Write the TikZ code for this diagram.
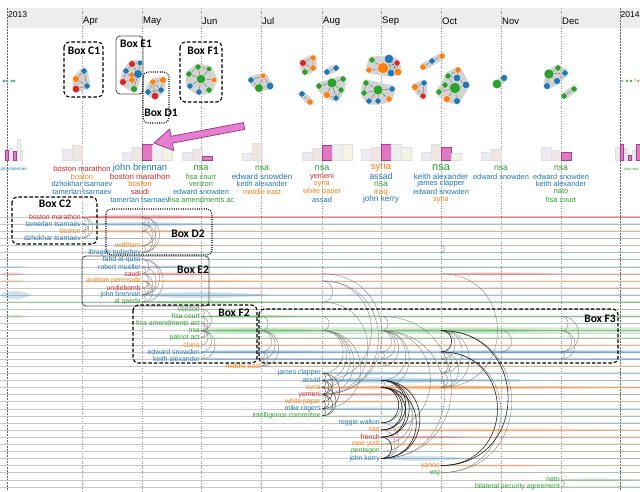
\documentclass[tikz,border=0pt]{standalone}
\usepackage{fontspec}
\setmainfont{Liberation Sans}
\newfontfamily\boxfont{Carlito}
\definecolor{cb}{HTML}{1F77B4}
\definecolor{co}{HTML}{FF7F0E}
\definecolor{cg}{HTML}{2CA02C}
\definecolor{cr}{HTML}{D62728}
\definecolor{pk}{HTML}{E377C2}
\definecolor{pkd}{HTML}{A0449A}
\definecolor{barlav}{HTML}{EEEAF4}
\definecolor{barbei}{HTML}{EFE5E3}
\definecolor{bargry}{HTML}{EFEFEF}
\definecolor{baryel}{HTML}{F4F4E4}
\definecolor{hullc}{HTML}{D2D2D2}
\definecolor{arrowpk}{HTML}{E67FD1}
\definecolor{arrowdk}{HTML}{9B3D8F}
\pgfdeclarelayer{bg}\pgfdeclarelayer{mid}\pgfsetlayers{bg,mid,main}
\newcommand\gn[5]{\pgfmathsetmacro\gs{#5*1.25}\node[gnode=#4, minimum size=\gs pt] (#1) at (#2,#3) {};}
\newcommand\lensband[5]{%
  \pgfmathsetmacro\ly{217+(#1-1)*7.1}%
  \pgfmathsetmacro\lh{#4*0.67}%
  \pgfmathsetmacro\xq{#2+(#3-#2)*0.2}%
  \pgfmathsetmacro\xr{#2+(#3-#2)*0.65}%
  \fill[#5,opacity=.2] (#2,\ly) .. controls (\xq,\ly-\lh) and (\xr,\ly-\lh) .. (#3,\ly) .. controls (\xr,\ly+\lh) and (\xq,\ly+\lh) .. (#2,\ly) -- cycle;}
\newcommand\flatband[5]{%
  \pgfmathsetmacro\ly{217+(#1-1)*7.1}%
  \pgfmathsetmacro\lh{#4/2}%
  \pgfmathsetmacro\xq{#2+8}%
  \fill[#5,opacity=.2] (#2,\ly) -- (\xq,\ly-\lh) -- (#3,\ly-\lh) -- (#3,\ly+\lh) -- (\xq,\ly+\lh) -- cycle;}
\begin{document}
\begin{tikzpicture}[x=1pt,y=-1pt,
  kw/.style={font=\fontsize{#1}{#1}\selectfont, inner sep=0pt},
  lbl/.style={font=\fontsize{6.9}{7}\selectfont, inner sep=1pt, anchor=east},
  rowline/.style={draw=black!22, line width=.3pt},
  monthline/.style={draw=black!40, dotted, line width=.5pt},
  yearline/.style={draw=black!60, dash pattern=on 2pt off 1pt, line width=.6pt},
  semi/.style={out=0,in=0,looseness=1.7},
  arcl/.style={draw=black!55, line width=.3pt},
  arcm/.style={draw=black!75, line width=.4pt},
  arck/.style={draw=black!90, line width=.55pt},
  gnode/.style={circle, inner sep=0pt, fill=#1, draw=white, line width=.3pt},
  gedge/.style={draw=black!60, line width=.35pt},
  hull/.style={fill=hullc, draw=hullc, line width=7pt, line join=round, line cap=round},
  boxlbl/.style={font=\boxfont\bfseries\fontsize{11.5}{12}\selectfont, inner sep=0pt},
  dashbox/.style={draw=black, line width=1.1pt, dash pattern=on 3.5pt off 2pt, rounded corners=5pt},
  dotbox/.style={draw=black, line width=1.1pt, dash pattern=on 1pt off 1.3pt, rounded corners=5pt},
  solidbox/.style={draw=black!65, line width=.9pt, rounded corners=4pt},
  mlbl/.style={font=\fontsize{9.5}{9.5}\selectfont, inner sep=0pt, anchor=west},
  ylbl/.style={font=\fontsize{8.5}{8.5}\selectfont, inner sep=0pt, anchor=west}]
\useasboundingbox (0,0) rectangle (640,491);
\begin{pgfonlayer}{bg}
\fill[white] (0,0) rectangle (640,491);
\fill[black!7] (7,8) rectangle (640,28);
\foreach \mx in {82,142,201,261,322,381,441,501,561}{\draw[monthline] (\mx,8) -- (\mx,491);}
\draw[yearline] (7,8) -- (7,491);
\draw[yearline] (620,8) -- (620,491);
\end{pgfonlayer}
% header labels
\node[ylbl] (y13) at (8,15) {2013};
\node[ylbl] (y14) at (620.5,15) {2014};
\foreach \mx/\mt in {83/Apr,143/May,202/Jun,262/Jul,323/Aug,382/Sep,442/Oct,502/Nov,562/Dec}{\node[mlbl] (m\mt) at (\mx,21) {\mt};}

% ---------- graphs ----------
\gn{C1a}{84}{71}{cb}{5}\gn{C1b}{76}{79}{co}{5.5}\gn{C1c}{76}{89}{cr}{6}\gn{C1d}{87}{86}{cb}{5}
\gn{E1a}{132}{64}{cr}{5.5}\gn{E1b}{140}{63}{cb}{4.5}\gn{E1c}{126}{71}{cb}{5}\gn{E1d}{132}{75}{co}{5}
\gn{E1e}{138}{74}{cb}{7}\gn{E1f}{123}{82}{cr}{5.5}\gn{E1g}{132}{80}{co}{5}\gn{E1h}{134}{89}{cg}{5.5}
\gn{D1a}{153}{82}{co}{5}\gn{D1b}{163}{80}{co}{5.5}\gn{D1c}{148}{92}{cb}{5}\gn{D1d}{161}{90}{cb}{5}\gn{D1e}{155}{96}{cr}{6}
\gn{F1a}{198}{67}{cg}{5}\gn{F1b}{209}{69}{cg}{4.5}\gn{F1c}{189}{74}{cg}{5}\gn{F1d}{201}{79}{cg}{7.5}
\gn{F1e}{214}{80}{co}{4.5}\gn{F1f}{190}{86}{cb}{5}\gn{F1g}{199}{92}{cb}{5}\gn{F1h}{209}{90}{cg}{5}
\gn{J1a}{251}{80}{cb}{5}\gn{J1b}{263}{76}{co}{4.5}\gn{J1c}{259}{88}{cg}{7}\gn{J1d}{270}{86}{cb}{6}
\gn{J2a}{303}{63}{cr}{5.5}\gn{J2b}{313}{58}{co}{5}\gn{J2c}{305}{72}{cg}{5}\gn{J2d}{313}{68}{co}{5}
\gn{J3a}{302}{94}{cb}{5}\gn{J3b}{310}{102}{co}{5}
\gn{A1a}{327}{72}{cb}{5}\gn{A1b}{336}{68}{cb}{5}
\gn{A1c}{319}{86}{cg}{5}\gn{A1d}{332}{83}{cg}{8}\gn{A1e}{343}{79}{cg}{5}\gn{A1f}{341}{90}{cg}{5}\gn{A1g}{327}{95}{co}{5.5}\gn{A1h}{336}{98}{cb}{5}
\gn{S1a}{372}{60}{cg}{5}\gn{S1b}{389}{59}{cb}{7.5}\gn{S1c}{397}{63}{cr}{5}\gn{S1d}{369}{70}{co}{5}
\gn{S1e}{383}{68}{co}{9}\gn{S1f}{391}{73}{cb}{6}\gn{S1g}{398}{72}{co}{6}
\gn{S2a}{366}{83}{cg}{5}\gn{S2b}{378}{90}{cg}{8}\gn{S2c}{392}{89}{cb}{5}\gn{S2d}{364}{93}{cg}{5}
\gn{S2e}{369}{101}{cb}{5}\gn{S2f}{378}{101}{cb}{5}\gn{S2g}{389}{99}{co}{5}
\gn{P1a}{423}{67}{co}{5}\gn{P1b}{432}{61}{cb}{5}\gn{P1c}{442}{56}{co}{5}
\gn{T1a}{415}{87}{co}{5.5}\gn{T1b}{424}{83}{cb}{5}\gn{T1c}{423}{96}{cr}{5}
\gn{O1a}{448}{76}{cg}{5}\gn{O1b}{458}{70}{co}{5}\gn{O1c}{457}{78}{cb}{6}\gn{O1d}{445}{85}{cg}{5}
\gn{O1e}{455}{88}{cg}{9}\gn{O1f}{466}{85}{cb}{6}\gn{O1g}{439}{92}{cg}{5}\gn{O1h}{447}{99}{co}{5.5}\gn{O1i}{457}{101}{cb}{5.5}
\gn{N1a}{497}{84}{cg}{7.5}\gn{N1b}{504}{78}{cb}{5.5}
\gn{X1a}{549}{74}{cg}{8}\gn{X1b}{558}{68}{cg}{5}\gn{X1c}{565}{73}{cb}{5}\gn{X1d}{557}{81}{cb}{5.5}\gn{X1e}{547}{86}{cb}{5.5}
\gn{X2a}{564}{96}{cg}{5}\gn{X2b}{574}{89}{cg}{5}
\gn{L0a}{4}{81}{cb}{2.5}\gn{L0b}{7}{81}{cg}{2.5}\gn{L0c}{12}{81}{cb}{2.5}\gn{L0d}{14}{81}{cg}{2.5}
\gn{R0a}{622}{81}{cb}{2}\gn{R0b}{627}{81}{cg}{2.5}\gn{R0c}{631}{81}{cg}{2.5}\gn{R0d}{635}{80}{co}{2}\gn{R0e}{638}{81}{cr}{2}
\begin{pgfonlayer}{mid}
\filldraw[hull] (C1a.center)--(C1d.center)--(C1c.center)--(C1b.center)--cycle;
\filldraw[hull] (E1a.center)--(E1b.center)--(E1e.center)--(E1h.center)--(E1f.center)--(E1c.center)--cycle;
\filldraw[hull] (D1a.center)--(D1b.center)--(D1d.center)--(D1e.center)--(D1c.center)--cycle;
\filldraw[hull] (F1a.center)--(F1b.center)--(F1e.center)--(F1h.center)--(F1g.center)--(F1f.center)--(F1c.center)--cycle;
\filldraw[hull] (J1a.center)--(J1b.center)--(J1d.center)--(J1c.center)--cycle;
\filldraw[hull] (J2a.center)--(J2b.center)--(J2d.center)--(J2c.center)--cycle;
\draw[hull] (J3a.center)--(J3b.center);
\draw[hull] (A1a.center)--(A1b.center);
\filldraw[hull] (A1c.center)--(A1e.center)--(A1f.center)--(A1h.center)--(A1g.center)--cycle;
\filldraw[hull] (S1a.center)--(S1b.center)--(S1c.center)--(S1g.center)--(S1f.center)--(S1d.center)--cycle;
\filldraw[hull] (S2a.center)--(S2c.center)--(S2g.center)--(S2f.center)--(S2e.center)--(S2d.center)--cycle;
\draw[hull] (P1a.center)--(P1c.center);
\filldraw[hull] (T1a.center)--(T1b.center)--(T1c.center)--cycle;
\filldraw[hull] (O1a.center)--(O1b.center)--(O1f.center)--(O1i.center)--(O1h.center)--(O1g.center)--(O1d.center)--cycle;
\draw[hull] (N1a.center)--(N1b.center);
\filldraw[hull] (X1b.center)--(X1c.center)--(X1d.center)--(X1e.center)--(X1a.center)--cycle;
\draw[hull] (X2a.center)--(X2b.center);
\draw[gedge] (C1a)--(C1b) (C1a)--(C1d) (C1b)--(C1c) (C1b)--(C1d) (C1c)--(C1d);
\draw[gedge] (E1a)--(E1b) (E1a)--(E1c) (E1a)--(E1e) (E1b)--(E1e) (E1c)--(E1d) (E1d)--(E1e) (E1c)--(E1f) (E1f)--(E1g) (E1g)--(E1e) (E1g)--(E1h) (E1e)--(E1h) (E1d)--(E1g) (E1c)--(E1g);
\draw[gedge] (D1a)--(D1b) (D1a)--(D1c) (D1a)--(D1d) (D1b)--(D1d) (D1c)--(D1e) (D1d)--(D1e) (D1a)--(D1e) (D1c)--(D1d);
\draw[gedge] (F1d)--(F1a) (F1d)--(F1b) (F1d)--(F1c) (F1d)--(F1e) (F1d)--(F1f) (F1d)--(F1g) (F1d)--(F1h) (F1a)--(F1b) (F1a)--(F1c);
\draw[gedge] (J1a)--(J1c) (J1c)--(J1d) (J1b)--(J1d) (J1a)--(J1b) (J1b)--(J1c);
\draw[gedge] (J2a)--(J2b) (J2a)--(J2c) (J2a)--(J2d) (J2b)--(J2d) (J2c)--(J2d) (J3a)--(J3b) (A1a)--(A1b);
\draw[gedge] (A1d)--(A1c) (A1d)--(A1e) (A1d)--(A1f) (A1d)--(A1g) (A1d)--(A1h) (A1g)--(A1h) (A1f)--(A1h);
\draw[gedge] (S1e)--(S1a) (S1e)--(S1b) (S1e)--(S1c) (S1e)--(S1d) (S1e)--(S1f) (S1e)--(S1g) (S1b)--(S1c) (S1b)--(S1f) (S1f)--(S1g) (S1c)--(S1g) (S1b)--(S1g) (S1c)--(S1f);
\draw[gedge] (S2b)--(S2a) (S2b)--(S2c) (S2b)--(S2d) (S2b)--(S2e) (S2b)--(S2f) (S2b)--(S2g) (S2a)--(S2d);
\draw[gedge] (P1a)--(P1b) (P1b)--(P1c) (T1a)--(T1b) (T1b)--(T1c) (T1a)--(T1c);
\draw[gedge] (O1e)--(O1a) (O1e)--(O1b) (O1e)--(O1c) (O1e)--(O1d) (O1e)--(O1f) (O1e)--(O1g) (O1e)--(O1h) (O1e)--(O1i) (O1a)--(O1b) (O1b)--(O1c) (O1a)--(O1c) (O1c)--(O1f) (O1d)--(O1g);
\draw[gedge] (N1a)--(N1b) (X1a)--(X1b) (X1a)--(X1c) (X1a)--(X1d) (X1a)--(X1e) (X1b)--(X1c) (X1c)--(X1d) (X2a)--(X2b);
\end{pgfonlayer}

% ---------- bars ----------
\foreach \xa/\xb/\t/\f/\d in {
 62/72/149/barlav/black!12, 72/82/145/barbei/black!12,
 122/132/152/barlav/black!12, 132/142/147/barbei/black!12, 142/152/144/pk/pkd, 152/162/145/bargry/black!12, 162/172/147/baryel/black!12,
 182/192/152/barlav/black!12, 192/202/149/barbei/black!12, 202/212/156/pk/pkd,
 242/252/153/barlav/black!12, 252/262/143/barbei/black!12,
 302/312/152/barlav/black!12, 312/322/148/barbei/black!12, 322/332/145/pk/pkd, 332/342/144/bargry/black!12, 342/352/144/baryel/black!12,
 361/371/149/barlav/black!12, 371/381/147/barbei/black!12, 381/391/144/pk/pkd, 391/401/144/bargry/black!12, 401/411/147/baryel/black!12,
 421/431/152/barlav/black!12, 431/441/144/barbei/black!12, 441/451/147/pk/pkd, 451/461/153/baryel/black!12,
 481/491/152/barlav/black!12, 491/501/149/barbei/black!12,
 541/551/147/barlav/black!12, 551/561/150/barbei/black!12, 561/571/152/pk/pkd,
 5/8/150/pk/pkd, 9/12/148/barbei/black!12, 13/16/151/pk/pkd, 17/20/139/baryel/black!12, 20/22/150/barlav/black!12,
 615/619/147/barlav/black!12, 620/623/144/pk/pkd, 624/627/148/barbei/black!12, 628/631/155/pk/pkd, 632/635/150/barlav/black!12, 636/640/144/pk/pkd}
 {\filldraw[fill=\f, draw=\d, line width=.4pt] (\xa,160) rectangle (\xb,\t);}

% ---------- pink arrow ----------
\filldraw[fill=arrowpk, draw=arrowdk, line width=.8pt, line join=round]
 (154,143) -- (169.7,128.9) -- (171.1,136.3) -- (243.4,122.6) -- (244.7,129.4) -- (172.4,143.1) -- (173.7,150.5) -- cycle;

% ---------- keyword lists ----------
\node[kw=4.5, text=cb, anchor=west] (kL1) at (0.5,169) {john brennan};
\node[kw=4, text=cg] (kR1) at (631,169) {nsa nsa};
\node[kw=7.6, text=cr] (kA1) at (82,169) {boston marathon};
\node[kw=7.4, text=co] (kA2) at (82,176.5) {boston};
\node[kw=7.4, text=cb] (kA3) at (82,184) {dzhokhar tsarnaev};
\node[kw=7.4, text=cb] (kA4) at (82,191.5) {tamerlan tsarnaev};
\node[kw=9.3, text=cb] (kM1) at (140,168.5) {john brennan};
\node[kw=8, text=cr] (kM2) at (140,176.5) {boston marathon};
\node[kw=7.8, text=co] (kM3) at (140,184) {boston};
\node[kw=7.6, text=cr] (kM4) at (140,191.5) {saudi};
\node[kw=7.4, text=cb] (kM5) at (140,199.5) {tamerlan tsarnaev};
\node[kw=9.3, text=cg] (kJ1) at (201,168.5) {nsa};
\node[kw=7.4, text=cg] (kJ2) at (201,176.5) {fisa court};
\node[kw=7.4, text=cg] (kJ3) at (201,184) {verizon};
\node[kw=7.4, text=cb] (kJ4) at (201,191.5) {edward snowden};
\node[kw=7.4, text=cg] (kJ5) at (201,199.5) {fisa amendments ac};
\node[kw=8.6, text=cg] (kL1j) at (262,168.5) {nsa};
\node[kw=8, text=cb] (kL2) at (262,176.5) {edward snowden};
\node[kw=7.4, text=cb] (kL3) at (262,184) {keith alexander};
\node[kw=7.4, text=co] (kL4) at (262,191.5) {middle east};
\node[kw=9, text=cg] (kG1) at (322,168.5) {nsa};
\node[kw=7.4, text=cr] (kG2) at (322,176.5) {yemeni};
\node[kw=7.4, text=co] (kG3) at (322,184) {syria};
\node[kw=7.4, text=co] (kG4) at (322,191.5) {white paper};
\node[kw=7.4, text=cb] (kG5) at (322,199.5) {assad};
\node[kw=9.6, text=co] (kS1) at (381,167) {syria};
\node[kw=8.8, text=cb] (kS2) at (381,176.5) {assad};
\node[kw=8.4, text=cg] (kS3) at (381,184.5) {nsa};
\node[kw=8.2, text=co] (kS4) at (381,192) {iraq};
\node[kw=8.2, text=cb] (kS5) at (381,199.5) {john kerry};
\node[kw=11, text=cg] (kO1) at (441,168) {nsa};
\node[kw=8, text=cb] (kO2) at (441,176.5) {keith alexander};
\node[kw=7.6, text=cb] (kO3) at (441,184) {james clapper};
\node[kw=7.4, text=cb] (kO4) at (441,191.5) {edward snowden};
\node[kw=7.4, text=co] (kO5) at (441,199.5) {syria};
\node[kw=8.6, text=cg] (kN1) at (501,168.5) {nsa};
\node[kw=7.4, text=cb] (kN2) at (501,176.5) {edward snowden};
\node[kw=8.6, text=cg] (kD1) at (561,168.5) {nsa};
\node[kw=7.4, text=cb] (kD2) at (561,176.5) {edward snowden};
\node[kw=7.4, text=cb] (kD3) at (561,184) {keith alexander};
\node[kw=7.4, text=cg] (kD4) at (561,191.5) {nato};
\node[kw=7.4, text=cg] (kD5) at (561,199.5) {fisa court};

% ---------- lower rows ----------
\foreach \i/\t/\c/\x in {
 1/boston marathon/cr/82, 2/tamerlan tsarnaev/cb/82, 3/boston/co/82, 4/dzhokhar tsarnaev/cb/82,
 5/waltham/co/142, 6/ibragim todashev/cb/142, 7/fahd al-quso/cb/142, 8/robert mueller/cb/142,
 9/saudi/cr/142, 10/arabian peninsula/co/142, 11/undiebomb/cr/142, 12/john brennan/cb/142, 13/al qaeda/cg/142,
 14/verizon/cg/201, 15/fisa court/cg/201, 16/fisa amendments act/cg/201, 17/nsa/cg/201, 18/patriot act/cg/201,
 19/china/co/201, 20/edward snowden/cb/201, 21/keith alexander/cb/201, 22/middle east/co/262,
 23/james clapper/cb/322, 24/assad/cb/322, 25/syria/co/322, 26/yemeni/cr/322, 27/white paper/co/322,
 28/mike rogers/cb/322, 29/intelligence committee/cg/322,
 30/reggie walton/cb/381, 31/iraq/co/381, 32/french/cr/381, 33/new york/co/381, 34/pentagon/cg/381, 35/john kerry/cb/381,
 36/yahoo/co/441, 37/wsj/cg/441, 38/nato/cg/561, 39/bilateral security agreement/cg/561}{
 \pgfmathsetmacro\yy{217+(\i-1)*7.1}
 \node[lbl, text=\c] (r\i) at (\x,\yy) {\t};
 \begin{pgfonlayer}{bg}\draw[rowline] (0,\yy) -- (640,\yy);\end{pgfonlayer}
 \begin{pgfonlayer}{mid}\fill[\c,opacity=.16] (\x,\yy-0.8) rectangle (640,\yy+0.8);\end{pgfonlayer}
}
\foreach \col/\cx in {A/82,M/142,J/201,L/261,G/322,S/381,O/441,N/501,D/561}{
 \foreach \i in {1,...,39}{\pgfmathsetmacro\yy{217+(\i-1)*7.1}\coordinate (\col\i) at (\cx,\yy);}}

\begin{pgfonlayer}{mid}
\foreach \r/\xa/\xb/\t/\c in {
 1/82/210/5/cr, 2/82/210/4/cb, 3/82/200/3.5/co, 5/142/205/2.5/co, 8/142/200/2/cb, 9/142/210/3/cr, 9/441/560/3/cr,
 10/142/260/2.5/co, 12/142/270/6/cb, 13/142/270/3.5/cg, 12/0/32/8/cb, 9/0/26/3/cr, 10/0/26/2.5/co, 8/0/28/2/cb, 15/5/27/3/cg,
 15/201/300/3/cg, 17/201/330/4/cg, 17/380/560/4/cg, 20/201/330/3/cb, 20/441/640/3/cb,
 23/322/440/3/cb, 24/322/470/6/cb, 25/322/520/5/co, 25/381/640/3/co, 26/322/420/3/cr, 27/322/420/2.5/co, 28/322/420/2.5/cb,
 31/381/640/3.5/co, 32/381/470/2.5/cr, 33/381/460/2.5/co, 35/381/470/5/cb, 36/441/560/2.5/co, 38/561/640/2.5/cg}
 {\lensband{\r}{\xa}{\xb}{\t}{\c}}
\foreach \r/\xa/\xb/\t/\c in {17/201/640/6.5/cg, 20/201/640/3/cb, 15/201/640/2.2/cg, 13/0/640/1.6/cg, 25/322/640/2.5/co, 24/322/520/2.5/cb, 21/201/640/2/cb, 1/82/640/1.6/cr}
 {\flatband{\r}{\xa}{\xb}{\t}{\c}}
\end{pgfonlayer}

% arcs
\foreach \col/\a/\b in {A/1/2,A/1/3,A/1/4,A/2/3,A/2/4,A/3/4,
 M/1/2,M/1/3,M/2/3,M/1/5,M/1/6,M/2/5,M/2/6,M/3/6,M/5/6,M/7/12,M/8/12,M/9/12,M/10/12,M/11/12,M/12/13,M/9/11,M/7/13,M/10/13,M/8/9,M/7/9,
 J/14/17,J/15/17,J/16/17,J/17/18,J/17/19,J/17/20,J/17/21,J/15/16,J/20/21,J/14/15,J/16/18,
 L/17/20,L/17/21,L/17/22,L/20/22,L/20/21,L/21/22,L/15/17,
 G/10/13,G/10/26,G/10/24,G/9/26,G/13/26,G/17/23,G/17/24,G/17/25,G/17/26,G/17/28,G/15/17,
 S/15/17,S/17/20,S/17/21,S/17/22,S/20/21,S/17/31,S/17/35,S/15/35,S/17/24,S/17/25,S/24/30,S/24/33,S/25/34,S/30/35,S/31/35,S/24/25,
 O/5/6,O/9/25,O/17/21,O/17/23,O/20/21,O/20/23,O/21/23,O/17/25,O/20/25,O/23/25,O/17/37,O/20/37,O/24/25,
 N/17/20,D/15/17,D/17/20,D/17/21,D/20/21,D/15/20}
 {\draw[arcl] (\col\a) to[semi] (\col\b);}
\foreach \col/\a/\b in {G/23/24,G/23/26,G/24/25,G/24/26,G/25/26,G/26/27,G/26/28,G/27/28,G/28/29,G/26/29,G/23/28,G/24/27,G/25/29}
 {\draw[arcm] (\col\a) to[semi] (\col\b);}
\foreach \col/\a/\b in {S/24/31,S/24/32,S/24/35,S/25/31,S/25/32,S/25/35,S/25/30,S/32/35,O/17/20,O/17/36,O/20/36}
 {\draw[arck] (\col\a) to[semi] (\col\b);}
\draw[arcl] (r38) to[semi] (r39);

% ---------- boxes ----------
\draw[dashbox] (64,42) rectangle (103,97);
\draw[solidbox] (116,36) rectangle (143,94);
\draw[dotbox] (143,72) rectangle (169,123);
\draw[dashbox] (180,42) rectangle (222,102);
\draw[dashbox] (12,197) rectangle (97,244);
\draw[dotbox] (106,209) rectangle (212,255);
\draw[solidbox] (82,256) rectangle (209,306);
\draw[dashbox] (133,305) rectangle (257,363);
\draw[dashbox] (259,309) rectangle (618,363);
\node[boxlbl] (bC1) at (84,51) {Box C1};
\node[boxlbl] (bE1) at (136,44) {Box E1};
\node[boxlbl] (bD1) at (161,113) {Box D1};
\node[boxlbl] (bF1) at (203,51) {Box F1};
\node[boxlbl] (bC2) at (55,204) {Box C2};
\node[boxlbl] (bD2) at (188,234) {Box D2};
\node[boxlbl] (bE2) at (193,270) {Box E2};
\node[boxlbl] (bF2) at (234,313) {Box F2};
\node[boxlbl] (bF3) at (600,319) {Box F3};
\end{tikzpicture}
\end{document}
